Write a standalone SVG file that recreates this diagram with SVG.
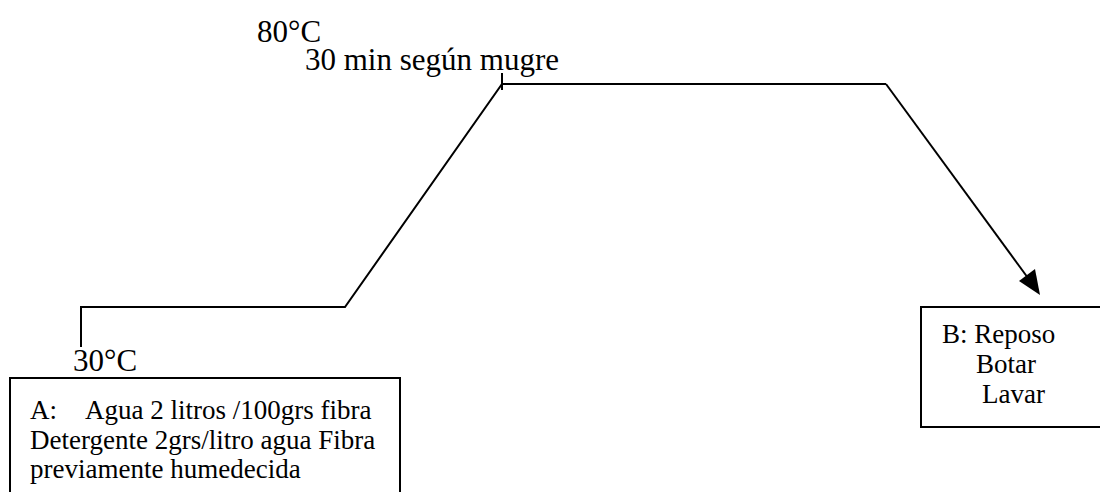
<svg xmlns="http://www.w3.org/2000/svg" width="1100" height="492" viewBox="0 0 1100 492">
  <style>
    .big { font-family: "Liberation Serif", "DejaVu Serif", "Times New Roman", serif; font-size: 31px; fill: #000; }
    .txt { font-family: "Liberation Serif", "DejaVu Serif", "Times New Roman", serif; font-size: 27px; fill: #000; }
    .ln { fill: none; stroke: #000; stroke-width: 2; }
    .box { fill: #fff; stroke: #000; stroke-width: 2; }
  </style>
  <rect width="1100" height="492" fill="#fff"/>

  <!-- temperature profile -->
  <g id="connectors">
    <polyline class="ln" points="81,347 81,307 345,307 502,84 886,84"/>
    <line class="ln" x1="502" y1="73" x2="502" y2="90"/>
    <line class="ln" x1="886" y1="84" x2="1028" y2="278"/>
    <polygon points="1040,295 1019,281 1035,269" fill="#000"/>
  </g>

  <g id="label-80">
    <text class="big" x="257" y="42">80°C</text>
  </g>
  <g id="label-time">
    <text class="big" x="305" y="70">30 min según mugre</text>
  </g>
  <g id="label-30">
    <text class="big" x="73" y="371">30°C</text>
  </g>

  <g id="node-a">
    <rect class="box" x="10" y="378" width="390" height="130"/>
    <text class="txt" x="30" y="419">A:</text>
    <text class="txt" x="85" y="419">Agua 2 litros /100grs fibra</text>
    <text class="txt" x="30" y="449">Detergente 2grs/litro agua Fibra</text>
    <text class="txt" x="30" y="478">previamente humedecida</text>
  </g>

  <g id="node-b">
    <rect class="box" x="921" y="307" width="200" height="120"/>
    <text class="txt" x="942" y="343">B: Reposo</text>
    <text class="txt" x="976" y="373">Botar</text>
    <text class="txt" x="982" y="403">Lavar</text>
  </g>
</svg>
